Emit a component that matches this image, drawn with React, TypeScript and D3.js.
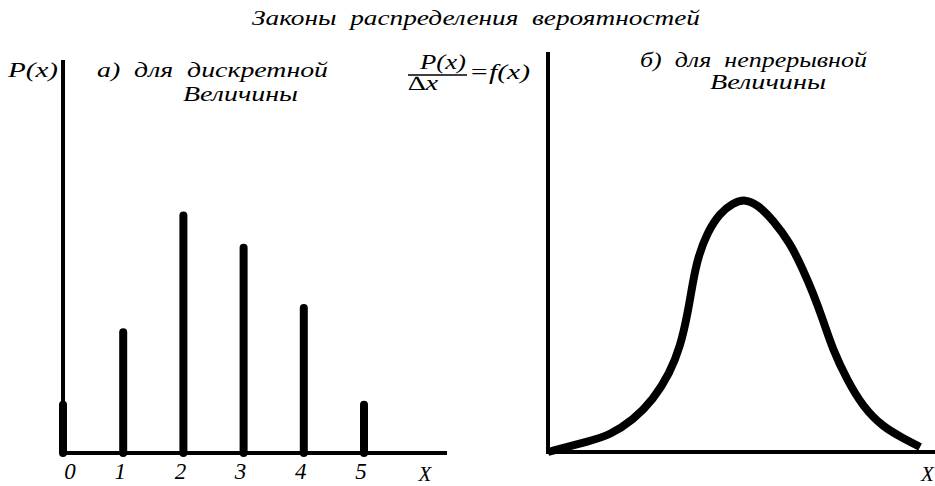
import React from 'react';
import * as d3 from 'd3';

// Title and panel captions
const title = 'Законы  распределения  вероятностей';
const leftCaption1 = 'а)  для  дискретной';
const leftCaption2 = 'Величины';
const rightCaption1 = 'б)  для  непрерывной';
const rightCaption2 = 'Величины';

// Discrete distribution: values of X and their probabilities P(x)
const discreteX = [0, 1, 2, 3, 4, 5];
const discreteP = [0.06, 0.15, 0.295, 0.255, 0.18, 0.06];
const tickLabels = ['0', '1', '2', '3', '4', '5'];

// Continuous distribution: density f(x) sampled along X (arbitrary units)
const densityX = [0, 11, 16.2, 22.3, 27.5, 31.9, 34.6, 36.6, 38.0, 39.3, 41.6, 45.0, 48.4, 51.6, 55.0, 58.9, 63.4, 66.8, 69.4, 72.0, 74.6, 78.3, 82.5, 87.7, 92.9, 97.4];
const densityF = [0, 0.0275, 0.0425, 0.08, 0.13, 0.1975, 0.2625, 0.3475, 0.43, 0.4875, 0.5475, 0.5975, 0.6225, 0.6325, 0.6175, 0.58, 0.5225, 0.455, 0.3975, 0.33, 0.255, 0.18, 0.1125, 0.0625, 0.035, 0.0125];

const W = 935;
const H = 486;
const FONT = '"Liberation Serif", "Times New Roman", serif';

export default function App() {
  // left panel scales
  const xL = d3.scaleLinear().domain([0, 5]).range([63, 364]);
  const yL = d3.scaleLinear().domain([0, 0.488]).range([453, 60]);

  // right panel scales
  const xR = d3.scaleLinear().domain([0, 100]).range([548, 930]);
  const yR = d3.scaleLinear().domain([0, 1]).range([452, 52]);

  const densityPath = d3
    .line<number>()
    .x((_, i) => xR(densityX[i]))
    .y((d) => yR(d))
    .curve(d3.curveBasis)(densityF) as string;

  const textStyle: React.CSSProperties = { whiteSpace: 'pre' };

  return (
    <svg
      width={W}
      height={H}
      viewBox={`0 0 ${W} ${H}`}
      style={{ position: 'absolute', left: 0, top: 0, background: '#fff' }}
      fontFamily={FONT}
      fontStyle="italic"
    >
      <rect width={W} height={H} fill="#fff" />

      {/* title */}
      <text x={252} y={25} fontSize={20} textLength={448} lengthAdjust="spacingAndGlyphs" style={textStyle}>
        {title}
      </text>

      {/* ===== left panel: discrete ===== */}
      <text x={8} y={77} fontSize={22} textLength={50} lengthAdjust="spacingAndGlyphs">P(x)</text>
      <text x={97} y={77} fontSize={21} textLength={231} lengthAdjust="spacingAndGlyphs" style={textStyle}>
        {leftCaption1}
      </text>
      <text x={183} y={101} fontSize={21} textLength={115} lengthAdjust="spacingAndGlyphs">
        {leftCaption2}
      </text>

      {/* axes */}
      <line x1={xL(0)} x2={xL(0)} y1={yL.range()[1]} y2={yL(0)} stroke="#000" strokeWidth={4} />
      <line x1={61} x2={447} y1={yL(0)} y2={yL(0)} stroke="#000" strokeWidth={4} />

      {/* probability bars */}
      {discreteX.map((x, i) => (
        <line
          key={x}
          x1={xL(x)}
          x2={xL(x)}
          y1={yL(0)}
          y2={yL(discreteP[i])}
          stroke="#000"
          strokeWidth={8}
          strokeLinecap="round"
        />
      ))}

      {/* tick labels */}
      {discreteX.map((x, i) => (
        <text key={x} x={xL(x) + (i === 0 ? 7 : -3)} y={479} fontSize={23} textAnchor="middle">
          {tickLabels[i]}
        </text>
      ))}
      <text x={425} y={481} fontSize={21} textAnchor="middle">X</text>

      {/* ===== right panel: continuous ===== */}
      <text x={420} y={69} fontSize={20} textLength={46} lengthAdjust="spacingAndGlyphs">P(x)</text>
      <line x1={408} x2={467} y1={75} y2={75} stroke="#000" strokeWidth={1.5} />
      <text x={408} y={90} fontSize={20} textLength={30} lengthAdjust="spacingAndGlyphs">∆x</text>
      <text x={469} y={79} fontSize={20} textLength={61} lengthAdjust="spacingAndGlyphs">=f(x)</text>

      <text x={640} y={67} fontSize={21} textLength={227} lengthAdjust="spacingAndGlyphs" style={textStyle}>
        {rightCaption1}
      </text>
      <text x={710} y={89} fontSize={21} textLength={116} lengthAdjust="spacingAndGlyphs">
        {rightCaption2}
      </text>

      {/* axes */}
      <line x1={xR(0)} x2={xR(0)} y1={yR(1)} y2={yR(0) + 2} stroke="#000" strokeWidth={4} />
      <line x1={xR(0)} x2={W} y1={yR(0)} y2={yR(0)} stroke="#000" strokeWidth={4} />

      {/* density curve */}
      <path d={densityPath} fill="none" stroke="#000" strokeWidth={8} strokeLinejoin="round" strokeLinecap="butt" />

      <text x={921} y={481} fontSize={21}>X</text>
    </svg>
  );
}
